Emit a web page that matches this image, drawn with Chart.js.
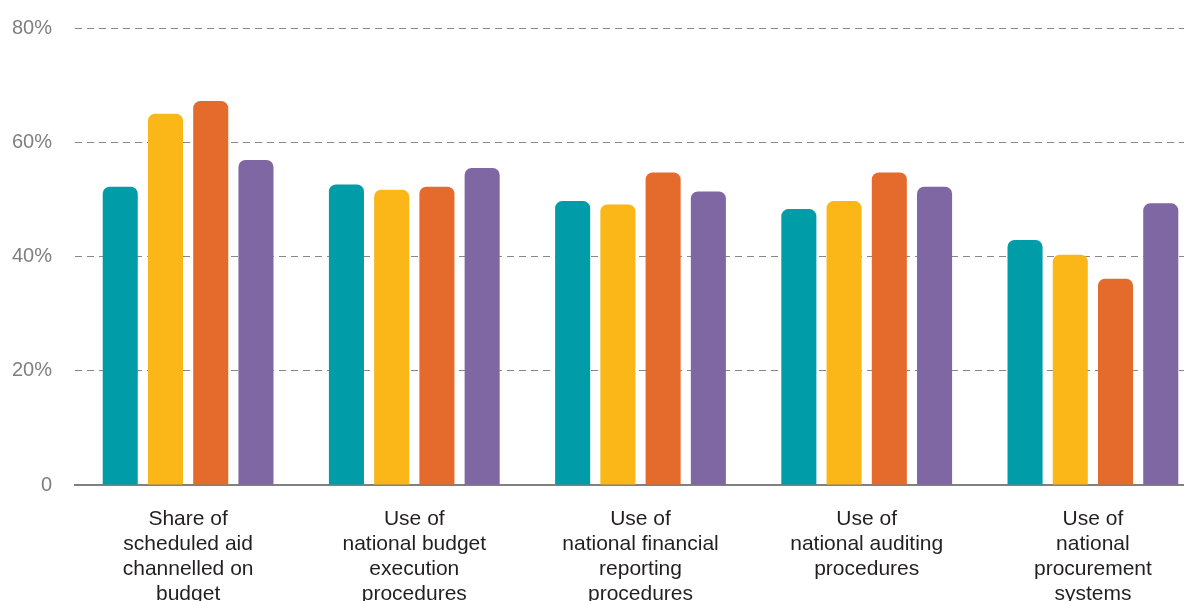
<!DOCTYPE html>
<html>
<head>
<meta charset="utf-8">
<script src="https://cdn.jsdelivr.net/npm/chart.js@4.4.0/dist/chart.umd.min.js"></script>
<style>
  html, body { margin: 0; padding: 0; background: #fff; overflow: hidden; }
  #wrap { width: 1206px; height: 601px; }
</style>
</head>
<body>
<div id="wrap"><canvas id="chart" width="1206" height="601"></canvas></div>
<script>
const categories = [
  ['Share of', 'scheduled aid', 'channelled on', 'budget'],
  ['Use of', 'national budget', 'execution', 'procedures'],
  ['Use of', 'national financial', 'reporting', 'procedures'],
  ['Use of', 'national auditing', 'procedures'],
  ['Use of', 'national', 'procurement', 'systems']
];
const seriesTeal   = [52.2, 52.6, 49.7, 48.3, 42.9];
const seriesYellow = [65.0, 51.7, 49.1, 49.7, 40.3];
const seriesOrange = [67.2, 52.2, 54.7, 54.7, 36.1];
const seriesPurple = [56.9, 55.5, 51.4, 52.2, 49.3];
const yTicks = [0, 20, 40, 60, 80];

const colors = ['#009ca8', '#fbb617', '#e46b2b', '#7f67a3'];
const allSeries = [seriesTeal, seriesYellow, seriesOrange, seriesPurple];

const datasets = allSeries.map((vals, i) => ({
  data: vals,
  backgroundColor: colors[i],
  borderWidth: 0,
  borderRadius: {topLeft: 7, topRight: 7, bottomLeft: 0, bottomRight: 0},
  borderSkipped: false,
  categoryPercentage: 0.8,
  barPercentage: 0.775
}));

new Chart(document.getElementById('chart').getContext('2d'), {
  type: 'bar',
  data: { labels: categories, datasets: datasets },
  options: {
    responsive: false,
    animation: false,
    devicePixelRatio: 1,
    layout: { padding: { top: 28, left: 0, right: 0, bottom: 0 } },
    plugins: { legend: { display: false }, tooltip: { enabled: false } },
    scales: {
      x: {
        grid: { display: false },
        border: { display: true, color: '#808080', width: 2 },
        ticks: {
          color: '#231f20',
          font: { family: 'Liberation Sans, Arial, sans-serif', size: 21, lineHeight: 25 / 21 },
          padding: 14,
          maxRotation: 0,
          autoSkip: false
        },
        afterFit: s => { s.height = 116; }
      },
      y: {
        min: 0,
        max: 80,
        afterBuildTicks: s => { s.ticks = yTicks.map(v => ({ value: v })); },
        grid: {
          drawTicks: false,
          color: ctx => ctx.tick && ctx.tick.value === 0 ? 'rgba(0,0,0,0)' : '#888888',
          lineWidth: 1
        },
        border: { display: false, dash: [7, 5] },
        ticks: {
          color: '#7f7f7f',
          font: { family: 'Liberation Sans, Arial, sans-serif', size: 20 },
          padding: 23,
          callback: v => v === 0 ? '0' : v + '%'
        },
        // keep the axis at 75px and stop tick padding from pushing the plot down
        afterFit: s => { s.width = 75; s.paddingTop = 12; s.paddingBottom = 12; }
      }
    }
  }
});
</script>
</body>
</html>
